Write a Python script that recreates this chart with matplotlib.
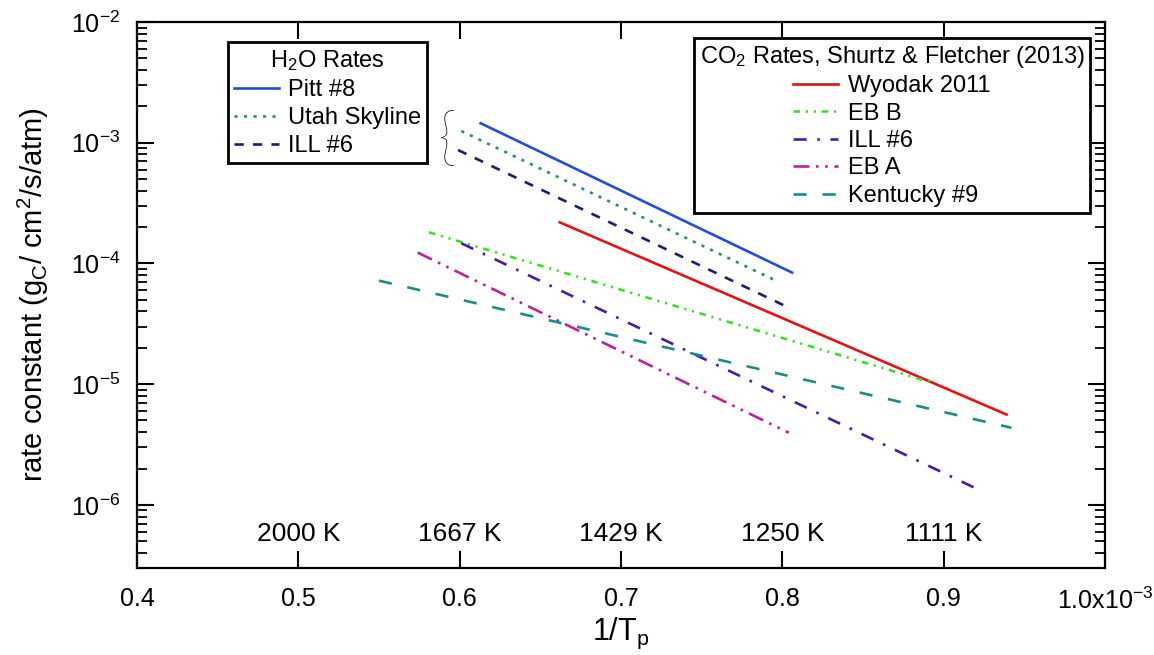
import matplotlib
matplotlib.use("Agg")
import matplotlib.pyplot as plt
from matplotlib.ticker import FixedLocator, FixedFormatter, LogLocator, NullFormatter, NullLocator

plt.rcParams['font.family'] = ['Liberation Sans', 'DejaVu Sans']
plt.rcParams['mathtext.default'] = 'regular'

# Arrhenius lines: endpoints in 1/Tp (x 1e-3 1/K) and rate constant
pitt8_x = [0.613, 0.806]
pitt8_y = [1.45e-3, 8.4e-5]
utah_x = [0.601, 0.796]
utah_y = [1.25e-3, 7.2e-5]
ill6_h2o_x = [0.599, 0.804]
ill6_h2o_y = [8.7e-4, 4.3e-5]

wyodak_x = [0.662, 0.939]
wyodak_y = [2.19e-4, 5.6e-6]
ebb_x = [0.581, 0.8925]
ebb_y = [1.81e-4, 1.03e-5]
ill6_co2_x = [0.601, 0.922]
ill6_co2_y = [1.47e-4, 1.33e-6]
eba_x = [0.574, 0.804]
eba_y = [1.23e-4, 3.96e-6]
kentucky_x = [0.550, 0.942]
kentucky_y = [7.2e-5, 4.35e-6]

x_ticks = [0.4, 0.5, 0.6, 0.7, 0.8, 0.9, 1.0]
x_tick_labels = ['0.4', '0.5', '0.6', '0.7', '0.8', '0.9', '1.0x10$^{-3}$']
temp_ticks = [0.5, 0.6, 0.7, 0.8, 0.9]
temp_labels = ['2000 K', '1667 K', '1429 K', '1250 K', '1111 K']
y_ticks = [1e-6, 1e-5, 1e-4, 1e-3, 1e-2]
y_tick_labels = ['10$^{-6}$', '10$^{-5}$', '10$^{-4}$', '10$^{-3}$', '10$^{-2}$']

fig = plt.figure(figsize=(11.54, 6.55), dpi=100)
ax = fig.add_axes([137 / 1154, 1 - 568 / 655, (1105 - 137) / 1154, (568 - 22) / 655])
ax.set_yscale('log')
ax.set_xlim(0.4, 1.0)
ax.set_ylim(3e-7, 1e-2)

lw = 1.9
h_pitt, = ax.plot(pitt8_x, pitt8_y, color='#1f4fd6', lw=lw, ls='-', label='Pitt #8')
h_utah, = ax.plot(utah_x, utah_y, color='#2e8c72', lw=lw, ls=(0, (1.2, 2.4)), label='Utah Skyline')
h_ill, = ax.plot(ill6_h2o_x, ill6_h2o_y, color='#1c1c70', lw=lw, ls=(0, (3.5, 3.5)), label='ILL #6')

c_wy, = ax.plot(wyodak_x, wyodak_y, color='#e41212', lw=lw, ls='-', label='Wyodak 2011')
c_ebb, = ax.plot(ebb_x, ebb_y, color='#3ddc2e', lw=lw, ls=(0, (2.5, 2.2, 0.8, 2.2, 0.8, 2.2)), label='EB B')
c_ill, = ax.plot(ill6_co2_x, ill6_co2_y, color='#4a1aa6', lw=lw, ls=(0, (5, 4, 1, 4)), label='ILL #6')
c_eba, = ax.plot(eba_x, eba_y, color='#c0209e', lw=lw, ls=(0, (6, 2.5, 1, 2.5, 1, 2.5)), label='EB A')
c_ken, = ax.plot(kentucky_x, kentucky_y, color='#1a8c8a', lw=lw, ls=(0, (5, 6)), label='Kentucky #9')

# axes styling
for s in ax.spines.values():
    s.set_linewidth(1.6)
ax.xaxis.set_major_locator(FixedLocator(x_ticks))
ax.xaxis.set_major_formatter(FixedFormatter(x_tick_labels))
ax.xaxis.set_minor_locator(NullLocator())
ax.yaxis.set_major_locator(FixedLocator(y_ticks))
ax.yaxis.set_major_formatter(FixedFormatter(y_tick_labels))
ax.yaxis.set_minor_locator(LogLocator(base=10, subs=range(2, 10)))
ax.yaxis.set_minor_formatter(NullFormatter())
ax.tick_params(axis='both', which='major', direction='in', length=12, width=1.5,
               top=True, right=True, labelsize=18)
ax.tick_params(axis='x', which='major', pad=14)
ax.tick_params(axis='y', which='major', pad=12)
ax.tick_params(axis='y', which='minor', direction='in', length=7, width=1.3, right=True)

fig.text(621 / 1154, 1 - 633 / 655, '1/T$_p$', fontsize=22, ha='center', va='center')
ax.set_ylabel('rate constant (g$_C$/ cm$^2$/s/atm)', fontsize=21, labelpad=14)

# temperature annotations above the bottom ticks
for xv, lab in zip(temp_ticks, temp_labels):
    ax.text(xv, 0.062, lab, transform=ax.get_xaxis_transform(), ha='center', va='center',
            fontsize=19)

# brace grouping the H2O lines
ax.text(0.5925, 1.04e-3, '{', fontsize=46, ha='center', va='center',
        family=['Lato', 'Liberation Sans'], fontweight='light')

leg1 = ax.legend(handles=[h_pitt, h_utah, h_ill], title='H$_2$O Rates', loc='upper left',
                 bbox_to_anchor=(0.094, 0.963), borderaxespad=0, fontsize=17,
                 title_fontsize=17, handlelength=1.9, handletextpad=0.4,
                 labelspacing=0.26, borderpad=0.25, fancybox=False, framealpha=1,
                 edgecolor='black')
leg1.get_frame().set_linewidth(2)
ax.add_artist(leg1)

leg2 = ax.legend(handles=[c_wy, c_ebb, c_ill, c_eba, c_ken],
                 title='CO$_2$ Rates, Shurtz & Fletcher (2013)', loc='upper left',
                 bbox_to_anchor=(0.575, 0.971), borderaxespad=0, fontsize=17,
                 title_fontsize=17, handlelength=1.9, handletextpad=0.4,
                 labelspacing=0.23, borderpad=0.25, fancybox=False, framealpha=1,
                 edgecolor='black')
leg2.get_frame().set_linewidth(2)

fig.savefig('out.png', dpi=100)
